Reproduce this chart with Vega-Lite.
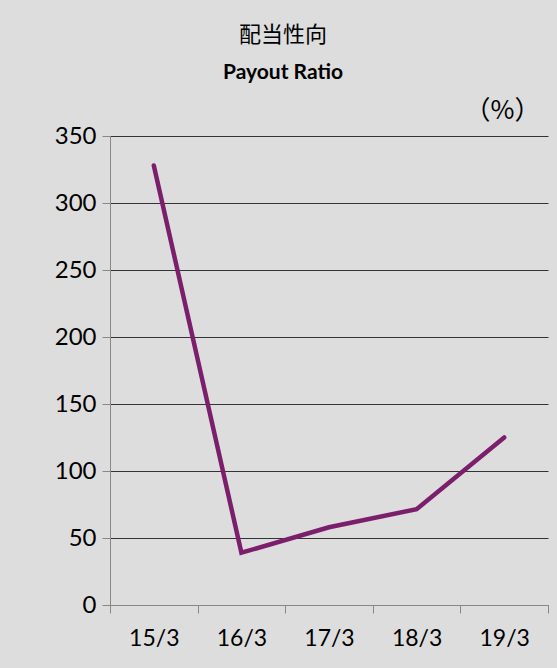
{
  "$schema": "https://vega.github.io/schema/vega-lite/v6.json",
  "autosize": "none",
  "width": 438,
  "height": 469,
  "padding": {"left": 110, "top": 136, "right": 9, "bottom": 63},
  "background": "#dddddd",
  "title": {
    "text": "配当性向",
    "subtitle": "Payout Ratio",
    "anchor": "middle",
    "frame": "group",
    "dx": -46,
    "offset": 13,
    "font": "Noto Sans CJK JP",
    "fontSize": 22,
    "fontWeight": "normal",
    "color": "#000000",
    "subtitleFont": "Lato",
    "subtitleFontSize": 21,
    "subtitleFontWeight": "bold",
    "subtitleColor": "#000000",
    "subtitlePadding": 15
  },
  "data": {
    "values": [
      {"period": "15/3", "ratio": 328},
      {"period": "16/3", "ratio": 39},
      {"period": "17/3", "ratio": 58},
      {"period": "18/3", "ratio": 71.5},
      {"period": "19/3", "ratio": 125}
    ]
  },
  "mark": {"type": "line", "color": "#7b1f6c", "strokeWidth": 4.5, "strokeCap": "round"},
  "encoding": {
    "x": {
      "field": "period",
      "type": "ordinal",
      "sort": null,
      "scale": {"type": "band", "paddingInner": 0, "paddingOuter": 0},
      "axis": {
        "title": null,
        "labelAngle": 0,
        "labelFont": "Lato",
        "labelFontSize": 23,
        "labelColor": "#000000",
        "labelPadding": 14,
        "tickBand": "extent",
        "tickSize": 8,
        "tickColor": "#888888",
        "domainColor": "#888888",
        "grid": false
      }
    },
    "y": {
      "field": "ratio",
      "type": "quantitative",
      "scale": {"domain": [0, 350], "nice": false},
      "axis": {
        "values": [0, 50, 100, 150, 200, 250, 300, 350],
        "title": "（%）",
        "titleAngle": 0,
        "titleAlign": "right",
        "titleBaseline": "alphabetic",
        "titleX": 430,
        "titleY": -18,
        "titleFont": "Noto Sans CJK JP",
        "titleFontSize": 26,
        "titleFontWeight": "normal",
        "titleColor": "#000000",
        "labelFont": "Lato",
        "labelFontSize": 24,
        "labelColor": "#000000",
        "labelPadding": 6,
        "tickSize": 8,
        "tickColor": "#888888",
        "domainColor": "#888888",
        "grid": true,
        "gridColor": "#333333",
        "gridWidth": 1
      }
    }
  },
  "config": {
    "view": {"stroke": null}
  }
}
